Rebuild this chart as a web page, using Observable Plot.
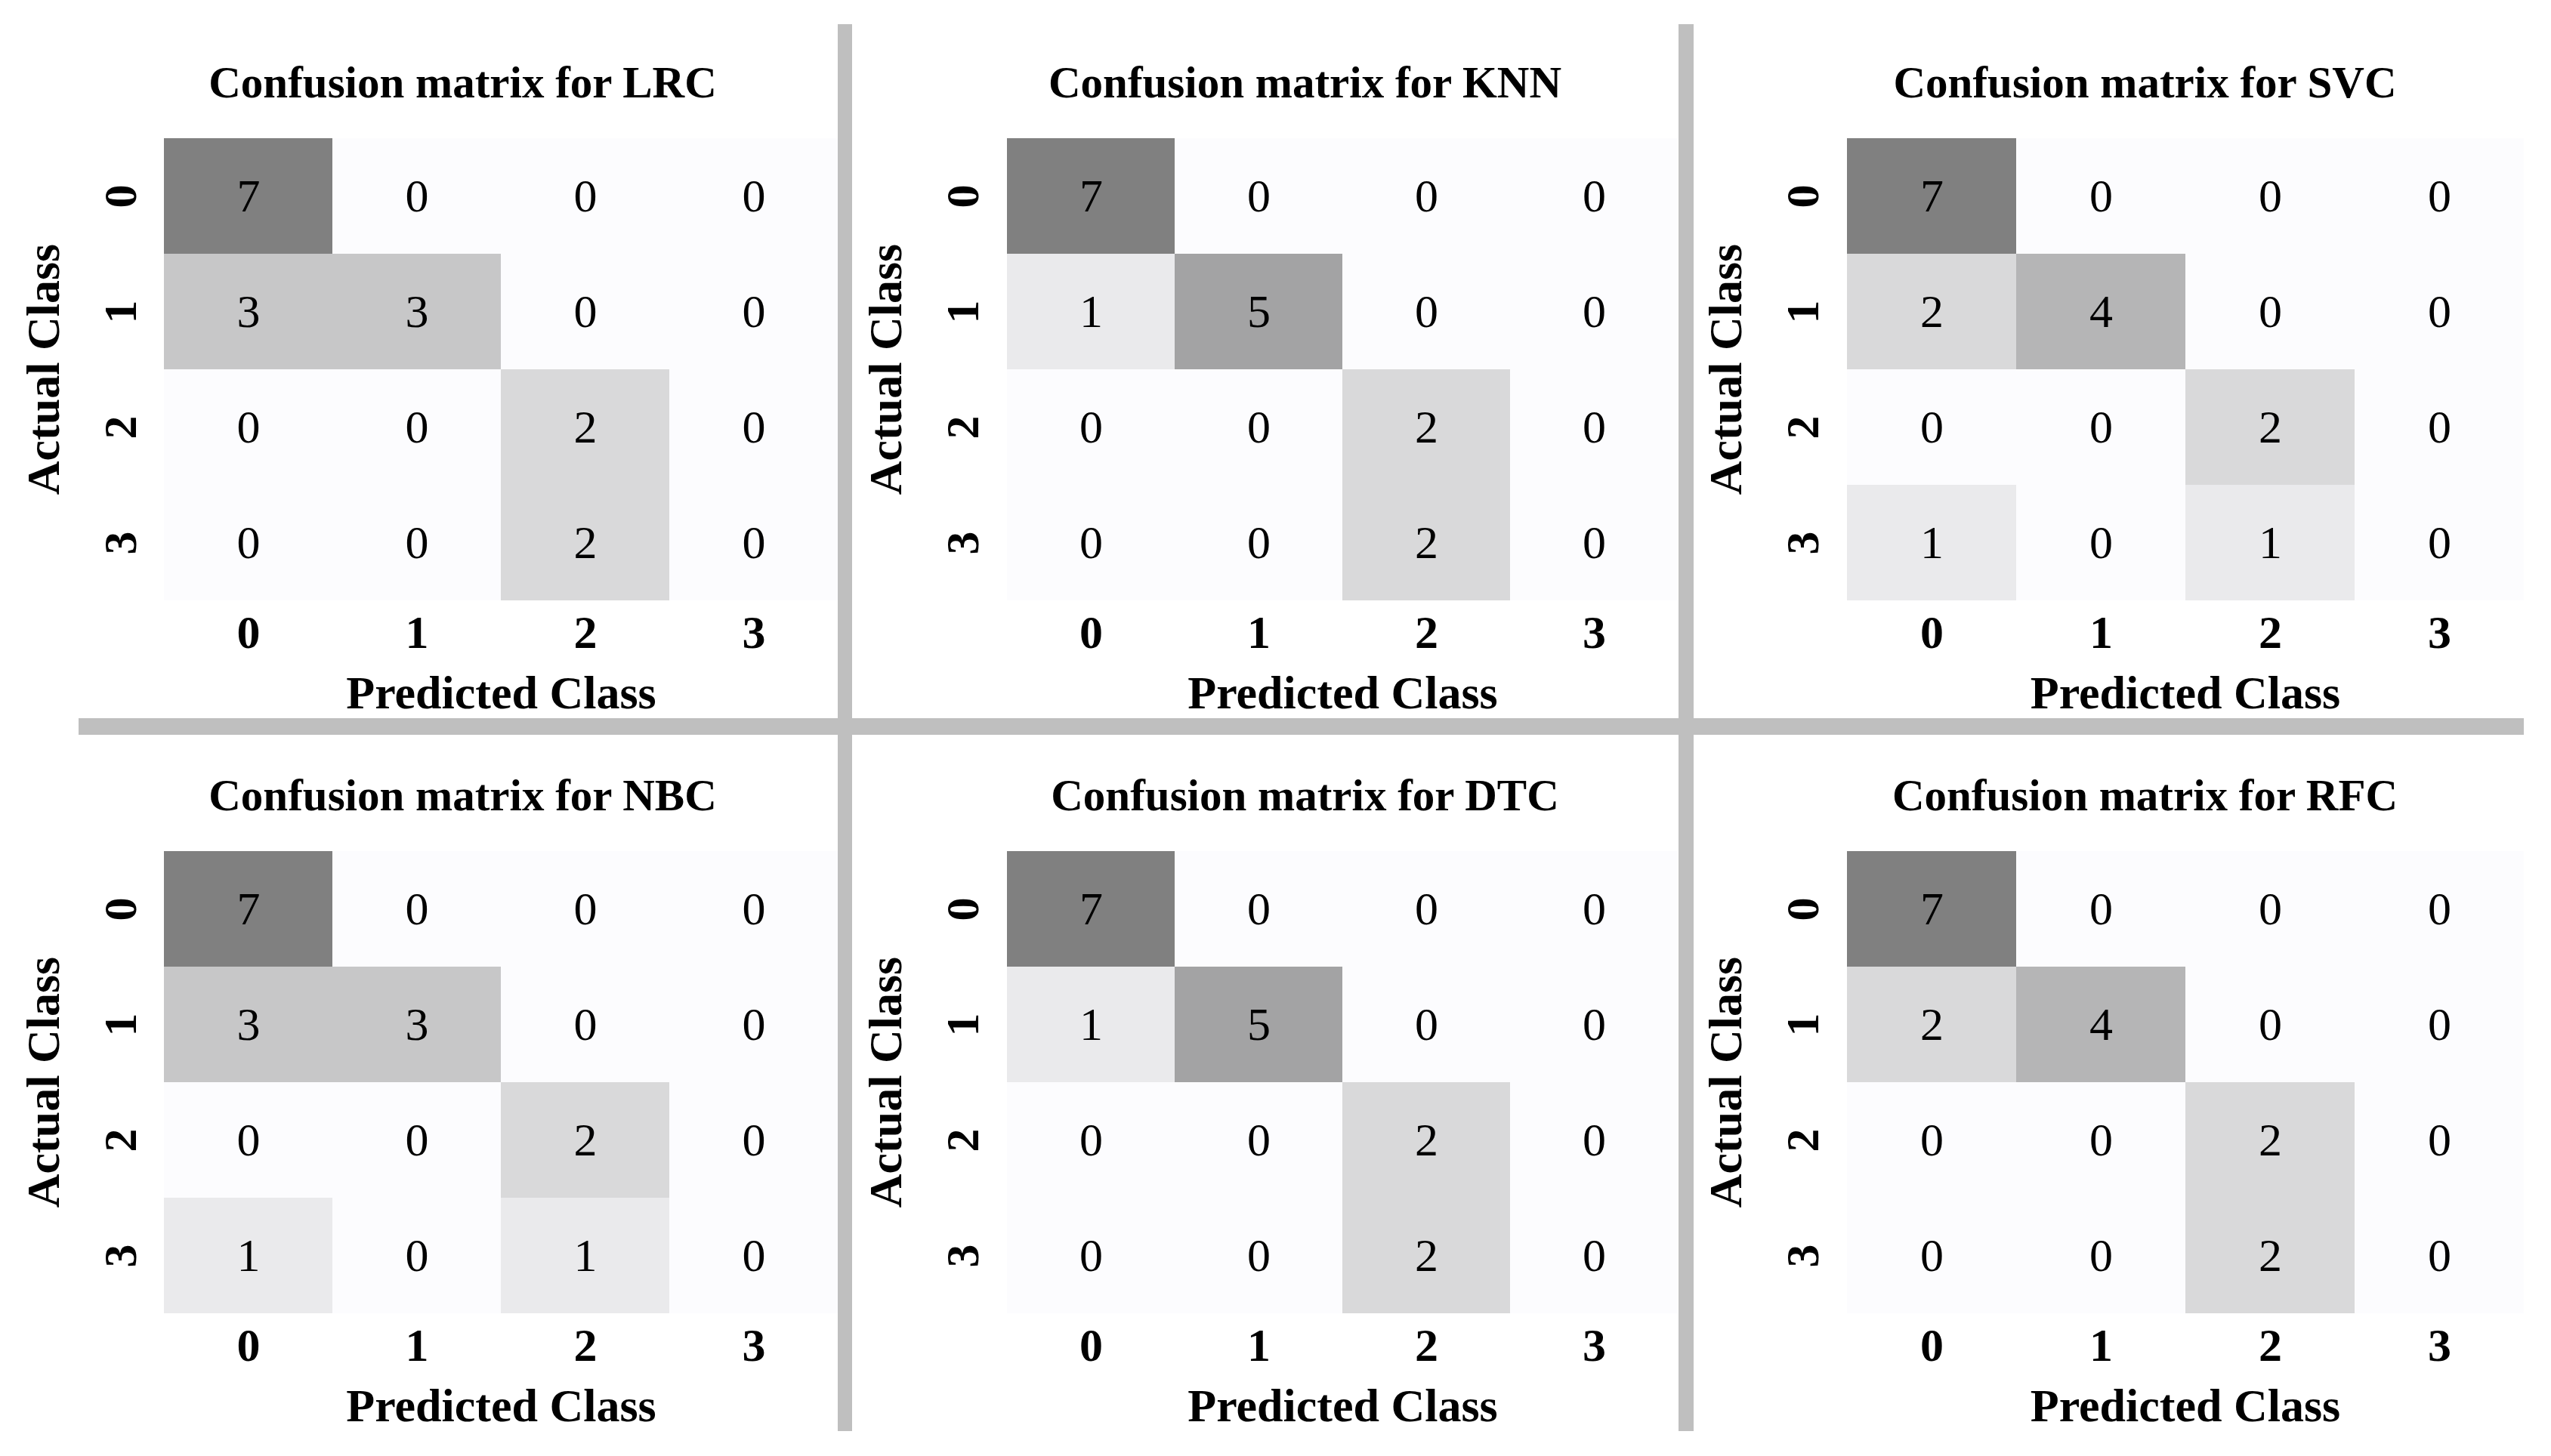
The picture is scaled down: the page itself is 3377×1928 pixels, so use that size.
<!DOCTYPE html>
<html>
<head>
<meta charset="utf-8">
<script src="https://cdn.jsdelivr.net/npm/d3@7"></script>
<script src="https://cdn.jsdelivr.net/npm/@observablehq/plot@0.6"></script>
<style>
  html, body { margin: 0; padding: 0; background: #ffffff; }
  #fig { position: relative; width: 3377px; height: 1928px; background: #ffffff; overflow: hidden; }
  .panel { position: absolute; }
  .rule { position: absolute; background: #bfbfbf; z-index: 5; }
</style>
</head>
<body>
<div id="fig"></div>
<script>
// ---- data ----
const classes = [0, 1, 2, 3];
const models = ["LRC", "KNN", "SVC", "NBC", "DTC", "RFC"];
const titlePrefix = "Confusion matrix for ";
const xLabel = "Predicted Class";
const yLabel = "Actual Class";

const lrc = [[7, 0, 0, 0], [3, 3, 0, 0], [0, 0, 2, 0], [0, 0, 2, 0]];
const knn = [[7, 0, 0, 0], [1, 5, 0, 0], [0, 0, 2, 0], [0, 0, 2, 0]];
const svc = [[7, 0, 0, 0], [2, 4, 0, 0], [0, 0, 2, 0], [1, 0, 1, 0]];
const nbc = [[7, 0, 0, 0], [3, 3, 0, 0], [0, 0, 2, 0], [1, 0, 1, 0]];
const dtc = [[7, 0, 0, 0], [1, 5, 0, 0], [0, 0, 2, 0], [0, 0, 2, 0]];
const rfc = [[7, 0, 0, 0], [2, 4, 0, 0], [0, 0, 2, 0], [0, 0, 2, 0]];
const matrices = [lrc, knn, svc, nbc, dtc, rfc];

// ---- layout ----
const FONT = "'Liberation Serif', 'Times New Roman', Times, serif";
const colLeft = [217, 1332, 2444];   // heatmap left edge per column
const colWidth = [892, 890, 897];    // heatmap width per column
const rowTop = [181, 1125];          // heatmap top edge per row
const gridH = 615;
const mL = 217, mT = 181, mB = 150;

const fig = document.getElementById("fig");

function panel(matrix, title, w) {
  const data = matrix.flatMap((row, i) => row.map((v, j) => ({actual: i, predicted: j, value: v})));
  const flat = data.map(d => d.value);
  return Plot.plot({
    width: mL + w,
    height: mT + gridH + mB,
    marginLeft: mL,
    marginRight: 0,
    marginTop: mT,
    marginBottom: mB,
    style: {fontFamily: FONT, background: "transparent", overflow: "visible", color: "black"},
    x: {type: "band", domain: classes, padding: 0},
    y: {type: "band", domain: classes, padding: 0},
    color: {type: "linear", domain: [d3.min(flat), d3.max(flat)], range: ["#fcfcfe", "#808080"], interpolate: "rgb"},
    marks: [
      Plot.cell(data, {x: "predicted", y: "actual", fill: "value", inset: 0, shapeRendering: "crispEdges"}),
      Plot.text(data, {x: "predicted", y: "actual", text: d => String(d.value), fill: "black", fontSize: 62}),
      Plot.axisX({
        anchor: "bottom", tickSize: 0, tickPadding: 17, fontSize: 62, fontWeight: "bold",
        label: xLabel, labelAnchor: "center", labelOffset: 141, labelArrow: "none"
      }),
      Plot.axisY({
        anchor: "left", tickSize: 0, tickPadding: 38, tickRotate: -90, fontSize: 62, fontWeight: "bold",
        label: yLabel, labelAnchor: "center", labelOffset: 184, labelArrow: "none"
      }),
      Plot.text([title], {
        frameAnchor: "top-left", dx: 395, dy: -53, lineAnchor: "bottom", textAnchor: "middle",
        fontSize: 59, fontWeight: "bold", fill: "black"
      })
    ]
  });
}

matrices.forEach((m, k) => {
  const r = Math.floor(k / 3), c = k % 3;
  const el = panel(m, titlePrefix + models[k], colWidth[c]);
  el.classList.add("panel");
  el.style.left = (colLeft[c] - mL) + "px";
  el.style.top = (rowTop[r] - mT) + "px";
  el.style.maxWidth = "none";
  fig.appendChild(el);
});

// separator rules between panels
const rules = [
  {left: 1109, top: 32, width: 19, height: 1863},
  {left: 2222, top: 32, width: 20, height: 1863},
  {left: 104, top: 951, width: 3237, height: 22}
];
rules.forEach(r => {
  const d = document.createElement("div");
  d.className = "rule";
  d.style.left = r.left + "px";
  d.style.top = r.top + "px";
  d.style.width = r.width + "px";
  d.style.height = r.height + "px";
  fig.appendChild(d);
});
</script>
</body>
</html>
